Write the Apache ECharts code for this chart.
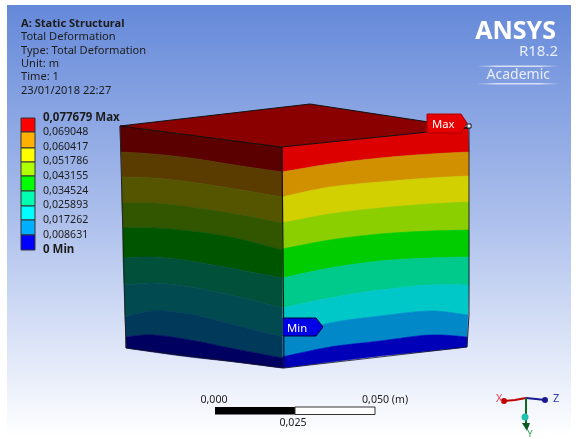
<!DOCTYPE html>
<html><head><meta charset="utf-8">
<style>html,body{margin:0;padding:0;background:#fff}#c{width:576px;height:439px}</style>
<script src="https://cdn.jsdelivr.net/npm/echarts@6/dist/echarts.min.js"></script></head>
<body><div id="c"></div>
<script>
// ---- Result header and legend values
const headerLines = ["A: Static Structural","Total Deformation","Type: Total Deformation","Unit: m","Time: 1","23/01/2018 22:27"];
const legendLabels = ["0,077679 Max","0,069048","0,060417","0,051786","0,043155","0,034524","0,025893","0,017262","0,008631","0 Min"];
const legendColors = ["#ff0000","#ffb000","#ffff00","#b0ff00","#00ff00","#00ffb0","#00ffff","#00b0ff","#0000ff"];
const legendTicksY = [118,132,148,162,176,191,206,220,235,250];
// ---- Contour band colours per face
const rightColors = ["#dc0000","#d09000","#d2d000","#8ccf00","#00cc00","#00c98c","#00c8c8","#0088c8","#0000b8"];
const leftColors  = ["#5a0000","#5a3c00","#555500","#325500","#005500","#00503a","#004a50","#00395a","#000060"];
// ---- Right face: stations along x and contour y at each; last station is the slanted edge
const rightX = [282,330,380,430];
const rightEdgeX = [468,469,469,469,469,469,469,468,467,467];
const rightContours = [
 [147,142,137,132,128],
 [172,164,158,154,152],
 [197,187,182,178,176],
 [223,214,208,204,202],
 [249,240,234,231,230],
 [278,268,261,258,257],
 [308,298,290,285,285],
 [336,323,316,311,315],
 [357,347,341,335,337],
 [368,362,356,351,347]
];
// ---- Left face: first station is the slanted edge
const leftEdgeX = [120,121,122,122,123,123,124,125,126,126];
const leftX = [153,190,235,282];
const leftContours = [
 [126,130,134,140,147],
 [152,154,158,165,172],
 [177,178,182,189,197],
 [203,203,207,214,223],
 [228,228,231,238,250],
 [258,257,261,269,278],
 [285,283,287,296,308],
 [317,311,314,325,337],
 [337,335,340,349,358],
 [348,352,357,362,368]
];
// ---- Top face outline
const topX = [120,310,468,281];
const topY = [126,104,128,147];
// ---- Scale bar
const scaleLabels = ["0,000","0,025","0,050 (m)"];

const chart = echarts.init(document.getElementById('c'),null,{renderer:'canvas'});

const rightRow = i => rightX.concat([rightEdgeX[i]]).map((x,k)=>[x,rightContours[i][k]]);
const leftRow  = i => [leftEdgeX[i]].concat(leftX).map((x,k)=>[x,leftContours[i][k]]);
const bands=[];
rightColors.forEach((c,i)=>bands.push({top:rightRow(i),bottom:rightRow(i+1),color:c}));
leftColors.forEach((c,i)=>bands.push({top:leftRow(i),bottom:leftRow(i+1),color:c}));

function curve(pts){
  const r=[];
  for(let i=0;i<pts.length-1;i++){
    const p0=pts[Math.max(i-1,0)],p1=pts[i],p2=pts[i+1],p3=pts[Math.min(i+2,pts.length-1)];
    for(let t=0;t<1;t+=0.125){
      const t2=t*t,t3=t2*t;
      r.push([0,1].map(a=>0.5*(2*p1[a]+(p2[a]-p0[a])*t+(2*p0[a]-5*p1[a]+4*p2[a]-p3[a])*t2+(3*p1[a]-p0[a]-3*p2[a]+p3[a])*t3)));
    }
  }
  r.push(pts[pts.length-1]);
  return r;
}
const font='"Noto Sans",sans-serif';
const line=(api,pts,stroke,lw)=>({type:'polyline',shape:{points:pts.map(q=>api.coord(q))},style:{stroke,lineWidth:lw,fill:null}});

const option={
 animation:false,
 grid:{left:0,right:0,top:0,bottom:0},
 xAxis:{type:'value',min:0,max:576,show:false},
 yAxis:{type:'value',min:0,max:439,inverse:true,show:false},
 series:[
  {type:'custom',coordinateSystem:'cartesian2d',silent:true,clip:false,data:[[7,5,571,437]],z:1,
   renderItem:(p,api)=>{const a=api.coord([api.value(0),api.value(1)]),b=api.coord([api.value(2),api.value(3)]);
    return {type:'rect',shape:{x:a[0],y:a[1],width:b[0]-a[0],height:b[1]-a[1]},
     style:{fill:new echarts.graphic.LinearGradient(0,0,0,1,[{offset:0,color:'#6589d9'},{offset:.5,color:'#adc0ec'},{offset:1,color:'#ffffff'}])}};}},
  {type:'custom',coordinateSystem:'cartesian2d',silent:true,clip:false,z:3,data:bands.map((b,i)=>i),
   renderItem:(p,api)=>{const b=bands[api.value(0)];
    const t=curve(b.top).map(q=>api.coord(q)),m=curve(b.bottom).map(q=>api.coord(q)).reverse();
    return {type:'polygon',shape:{points:t.concat(m)},style:{fill:b.color,stroke:b.color,lineWidth:.6}};}},
  {type:'custom',coordinateSystem:'cartesian2d',silent:true,clip:false,z:4,data:[0],
   renderItem:(p,api)=>({type:'polygon',shape:{points:topX.map((x,i)=>api.coord([x,topY[i]]))},style:{fill:'#8a0000',stroke:'#111',lineWidth:1}})},
  {type:'custom',coordinateSystem:'cartesian2d',silent:true,clip:false,z:5,data:[0],
   renderItem:(p,api)=>({type:'group',children:[
     line(api,[[120,126],[126,348]],'#222',1),
     line(api,[[282,147],[284,368]],'#111',1.2),
     line(api,[[469,128],[469,315],[467,347]],'#223',1),
     line(api,[[126,348],[284,368],[467,347]],'#112',.8)
   ]})},
  {type:'custom',coordinateSystem:'cartesian2d',silent:true,clip:false,z:6,data:legendColors.map((c,i)=>i),
   renderItem:(p,api)=>{const i=api.value(0),a=api.coord([21,legendTicksY[i]]),b=api.coord([35,legendTicksY[i+1]]);
    return {type:'rect',shape:{x:a[0],y:a[1],width:b[0]-a[0],height:b[1]-a[1]},style:{fill:legendColors[i],stroke:'#333',lineWidth:1}};}}
 ]
};
const g=[];
const txt=(x,y,text,o={})=>g.push({type:'text',x,y,z:20,style:Object.assign({text,fill:'#1c1c1c',font:`${o.w||400} ${o.s||11.1}px ${o.f||font}`,textVerticalAlign:'middle',textAlign:o.a||'left'},o.st||{})});
const fadeRule=y=>g.push({type:'rect',z:19,shape:{x:477,y,width:82,height:1.5},style:{fill:new echarts.graphic.LinearGradient(0,0,1,0,[{offset:0,color:'rgba(255,255,255,0)'},{offset:.25,color:'rgba(255,255,255,.7)'},{offset:.75,color:'rgba(255,255,255,.7)'},{offset:1,color:'rgba(255,255,255,0)'}])}});
headerLines.forEach((l,i)=>txt(21,23.7+i*13.4,l,{w:i==0?700:400}));
legendLabels.forEach((l,i)=>{const b=i==0||i==9;txt(43,117.5+i*14.65,l,{w:b?700:400,s:b?11.5:10.6});});
// ANSYS logo
txt(556,32,'ANSYS',{s:25,w:700,a:'right',st:{fill:'#fff'}});
txt(558,52,'R18.2',{s:15,a:'right',st:{fill:'#e8eefb'}});
txt(550,75,'Academic',{s:14,a:'right',st:{fill:'#e8eefb'}});
fadeRule(65.5);fadeRule(83);
// Max / Min tags
g.push({type:'polygon',z:18,shape:{points:[[427,114],[461,114],[467,123],[461,133],[427,133]]},style:{fill:'#e60000',stroke:'#a00',lineWidth:1}});
txt(432,125,'Max',{s:11.3,st:{fill:'#fff'}});
g.push({type:'rect',z:18,shape:{x:467,y:124,width:4,height:4},style:{fill:'#fff',stroke:'#111',lineWidth:1}});
g.push({type:'polygon',z:18,shape:{points:[[283,318],[316,318],[323,327],[316,336],[283,336]]},style:{fill:'#0000e6',stroke:'#003',lineWidth:1}});
txt(287,329,'Min',{s:11.3,st:{fill:'#fff'}});
// scale bar
g.push({type:'rect',z:18,shape:{x:215,y:407,width:80,height:7.5},style:{fill:'#000'}});
g.push({type:'rect',z:18,shape:{x:295,y:407,width:80,height:7.5},style:{fill:'#fff',stroke:'#333',lineWidth:1}});
txt(214,399.5,scaleLabels[0],{a:'center',s:10.6});
txt(293,423,scaleLabels[1],{a:'center',s:10.6});
txt(362,399.5,scaleLabels[2],{s:10.6});
// triad
g.push({type:'polyline',z:18,shape:{points:[[504,401],[515,400],[526,398]]},style:{stroke:'#c00000',lineWidth:2}});
g.push({type:'polyline',z:18,shape:{points:[[526,398],[536,399],[545,400]]},style:{stroke:'#1a1a90',lineWidth:2}});
g.push({type:'polyline',z:18,shape:{points:[[526,398],[526,428]]},style:{stroke:'#0a6a20',lineWidth:2}});
g.push({type:'circle',z:19,shape:{cx:504,cy:401,r:3},style:{fill:'#c00000'}});
g.push({type:'circle',z:19,shape:{cx:545,cy:400,r:3},style:{fill:'#1a1a90'}});
g.push({type:'circle',z:19,shape:{cx:525,cy:417,r:3.5},style:{fill:'#20c0b0'}});
g.push({type:'polygon',z:19,shape:{points:[[522,423],[530,423],[527,431]]},style:{fill:'#0a5a20'}});
txt(496,399,'X',{st:{fill:'#e04050'}});
txt(553,399,'Z',{st:{fill:'#3040b0'}});
txt(530,434,'Y',{s:9.5,a:'center',st:{fill:'#30a050'}});
option.graphic=g;
chart.setOption(option);
</script></body></html>
